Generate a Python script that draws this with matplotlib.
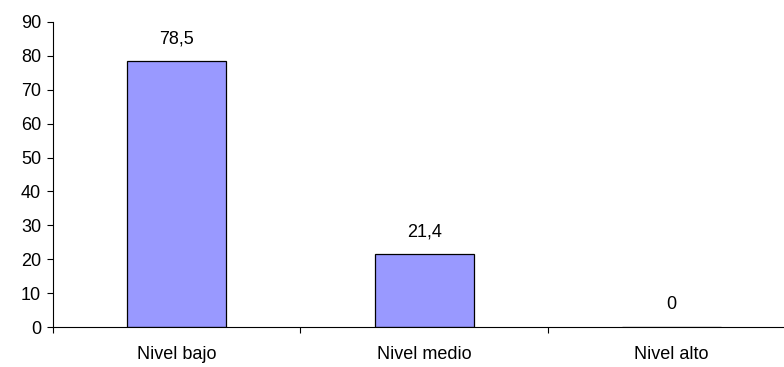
import matplotlib.pyplot as plt

plt.rcParams['font.family'] = ['Liberation Sans', 'DejaVu Sans']

categories = ["Nivel bajo", "Nivel medio", "Nivel alto"]
values = [78.5, 21.4, 0]
labels = ["78,5", "21,4", "0"]

fig = plt.figure(figsize=(7.84, 3.67), dpi=100)
ax = fig.add_axes([53 / 784, 40 / 367, 731 / 784, 305 / 367])

x = list(range(len(categories)))
ax.bar(x, values, width=0.40, color="#9999FF", edgecolor="black", linewidth=0.9)

for xi, v, lab in zip(x, values, labels):
    ax.annotate(lab, (xi, v), xytext=(0, 16), textcoords="offset points",
                ha="center", va="center", fontsize=13)

ax.set_xlim(-0.5, 2.455)
ax.set_ylim(0, 90)
ax.set_yticks(range(0, 91, 10))
ax.set_xticks(x)
ax.set_xticklabels(categories)
ax.set_xticks([-0.5, 0.5, 1.5], minor=True)

ax.tick_params(axis="x", which="major", length=0, pad=14, labelsize=13)
ax.tick_params(axis="x", which="minor", length=4.5, width=0.8, direction="out")
ax.tick_params(axis="y", length=4.5, width=0.8, pad=4, labelsize=13)

for s in ["top", "right"]:
    ax.spines[s].set_visible(False)
for s in ["left", "bottom"]:
    ax.spines[s].set_linewidth(0.8)

fig.savefig("out.png", dpi=100)
